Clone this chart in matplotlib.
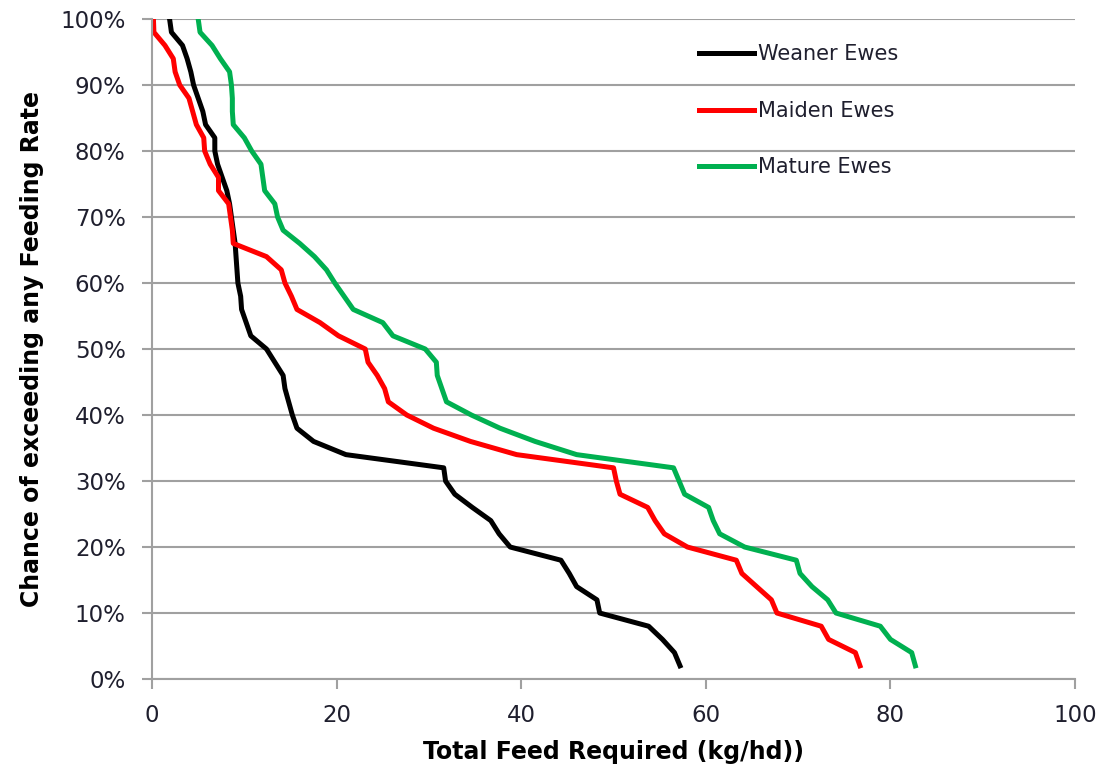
import matplotlib
matplotlib.use("Agg")
import matplotlib.pyplot as plt
from matplotlib.ticker import PercentFormatter

# chance of exceeding (%), one point every 2 %
chance = [100, 98, 96, 94, 92, 90, 88, 86, 84, 82,
          80, 78, 76, 74, 72, 70, 68, 66, 64, 62,
          60, 58, 56, 54, 52, 50, 48, 46, 44, 42,
          40, 38, 36, 34, 32, 30, 28, 26, 24, 22,
          20, 18, 16, 14, 12, 10, 8, 6, 4, 2]

weaner = [1.9, 2.1, 3.3, 3.8, 4.2, 4.5, 5.0, 5.5, 5.8, 6.8,
          6.8, 7.1, 7.6, 8.1, 8.4, 8.6, 8.8, 9.0, 9.1, 9.2,
          9.3, 9.6, 9.7, 10.2, 10.7, 12.4, 13.3, 14.2, 14.4, 14.8,
          15.2, 15.7, 17.5, 21.0, 31.6, 31.8, 32.8, 34.7, 36.7, 37.6,
          38.8, 44.3, 45.2, 46.0, 48.2, 48.5, 53.8, 55.3, 56.6, 57.2]

maiden = [0.15, 0.2, 1.4, 2.3, 2.5, 3.0, 4.0, 4.4, 4.8, 5.6,
          5.7, 6.3, 7.2, 7.2, 8.3, 8.5, 8.7, 8.8, 12.4, 14.0,
          14.4, 15.1, 15.7, 18.2, 20.2, 23.1, 23.4, 24.4, 25.2, 25.6,
          27.6, 30.5, 34.5, 39.5, 50.0, 50.3, 50.7, 53.7, 54.5, 55.5,
          58.0, 63.3, 63.9, 65.5, 67.1, 67.7, 72.5, 73.3, 76.2, 76.7]

mature = [5.0, 5.2, 6.5, 7.4, 8.4, 8.6, 8.7, 8.7, 8.8, 10.0,
          10.8, 11.8, 12.0, 12.2, 13.3, 13.6, 14.2, 16.0, 17.6, 18.9,
          19.8, 20.8, 21.8, 25.0, 26.1, 29.6, 30.8, 30.9, 31.4, 31.9,
          34.6, 37.7, 41.5, 46.0, 56.5, 57.1, 57.7, 60.3, 60.8, 61.5,
          64.2, 69.8, 70.2, 71.5, 73.2, 74.1, 78.9, 80.0, 82.3, 82.7]

labels = ["Weaner Ewes", "Maiden Ewes", "Mature Ewes"]
colors = ["#000000", "#ff0000", "#00b050"]

fig = plt.figure(figsize=(11.05, 7.83), dpi=100)
ax = fig.add_axes([0.1376, 0.1328, 0.8353, 0.8429])

for xs, lab, col in zip([weaner, maiden, mature], labels, colors):
    ax.plot(xs, chance, color=col, lw=3.6, label=lab, solid_joinstyle="round")

ax.set_xlim(0, 100)
ax.set_ylim(0, 100)
ax.set_xticks(range(0, 101, 20))
ax.set_yticks(range(0, 101, 10))
ax.yaxis.set_major_formatter(PercentFormatter(decimals=0))

ax.grid(axis="y", color="#a0a0a0", lw=1.5)
ax.set_axisbelow(True)
for s in ["top", "right"]:
    ax.spines[s].set_visible(False)
for s in ["left", "bottom"]:
    ax.spines[s].set_color("#a0a0a0")
    ax.spines[s].set_linewidth(1.5)
ax.tick_params(axis="both", colors="#a0a0a0", width=1.5, length=7,
               labelcolor="#1f1f2e", labelsize=16.5)
ax.tick_params(axis="y", pad=12)
ax.tick_params(axis="x", pad=11)

ax.set_xlabel("Total Feed Required (kg/hd))", fontsize=17, fontweight="bold",
              labelpad=9)
ax.set_ylabel("Chance of exceeding any Feeding Rate", fontsize=17,
              fontweight="bold", labelpad=12)

leg = ax.legend(loc="upper left", bbox_to_anchor=(0.572, 0.99), frameon=False,
                fontsize=15, handlelength=2.65, handletextpad=0.2,
                labelspacing=1.75)
for t in leg.get_texts():
    t.set_color("#1f1f2e")

fig.savefig("out.png", dpi=100)
